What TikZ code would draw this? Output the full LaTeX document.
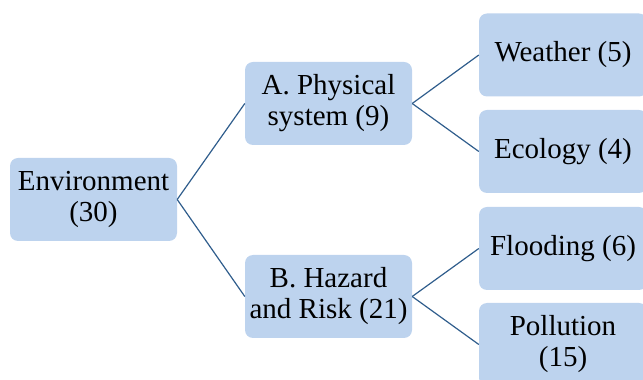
\documentclass[tikz,border=0pt]{standalone}
\usepackage{fontspec}
\setmainfont{Liberation Serif}
\definecolor{boxfill}{HTML}{BDD3EE}
\definecolor{linkcol}{HTML}{2F5D8C}
\begin{document}
\begin{tikzpicture}[x=1pt,y=1pt,
  box/.style={draw=none,fill=boxfill,rounded corners=8pt,minimum width=167pt,minimum height=83pt,
    inner sep=0pt,align=center,font=\fontsize{29}{31}\selectfont},
  link/.style={draw=linkcol,line width=1.2pt}]
\useasboundingbox (0,0) rectangle (643,380);
\node[box] (env) at (93.5,180.5) {Environment\\(30)};
\node[box] (a) at (328.5,276.5) {A. Physical\\system (9)};
\node[box] (b) at (328.5,83.5) {B. Hazard\\and Risk (21)};
\node[box,minimum width=168pt] (w) at (563,325) {Weather (5)};
\node[box,minimum width=168pt] (e) at (563,228.5) {Ecology (4)};
\node[box,minimum width=168pt] (f) at (563,131.5) {Flooding (6)};
\node[box,minimum width=168pt] (p) at (563,35.5) {Pollution\\(15)};
\draw[link] (env.east) -- (a.west);
\draw[link] (env.east) -- (b.west);
\draw[link] (a.east) -- (w.west);
\draw[link] (a.east) -- (e.west);
\draw[link] (b.east) -- (f.west);
\draw[link] (b.east) -- (p.west);
\end{tikzpicture}
\end{document}
